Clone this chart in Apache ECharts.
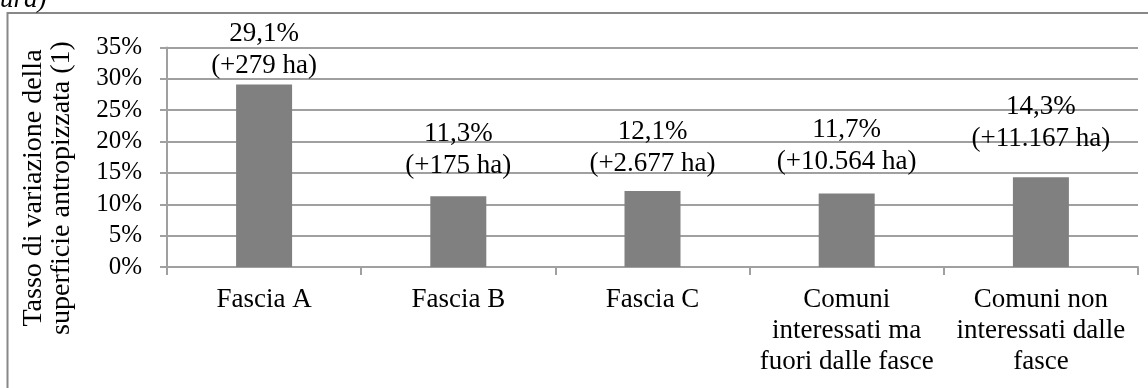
<!DOCTYPE html>
<html>
<head>
<meta charset="utf-8">
<script src="https://cdn.jsdelivr.net/npm/echarts@6/dist/echarts.min.js"></script>
<style>
html, body { margin: 0; padding: 0; background: #fff; }
#chart-box { width: 1148px; height: 388px; }
</style>
</head>
<body>
<div id="chart-box"></div>
<script>
// dati
var categories = ['Fascia A', 'Fascia B', 'Fascia C', 'Comuni\ninteressati ma\nfuori dalle fasce', 'Comuni non\ninteressati dalle\nfasce'];
var tasso = [29.1, 11.3, 12.1, 11.7, 14.3];
var ettari = [279, 175, 2677, 10564, 11167];
var yTicks = [0, 5, 10, 15, 20, 25, 30, 35];

// distanza etichetta-barra, come nell'originale
var labelGap = [3, 14, 11, 16, 22];

var serif = '"Liberation Serif", "DejaVu Serif", serif';

function fmtHa(n) {
    return String(n).replace(/\B(?=(\d{3})+(?!\d))/g, '.');
}

var barData = tasso.map(function (v, i) {
    return {
        value: v,
        label: { distance: labelGap[i] }
    };
});

var option = {
    animation: false,
    grid: { left: 167, right: 10, top: 47.5, bottom: 121 },
    xAxis: {
        type: 'category',
        data: categories,
        axisLine: { show: true, lineStyle: { color: '#a0a0a0', width: 2 } },
        axisTick: { show: true, length: 8, alignWithLabel: false, lineStyle: { color: '#a0a0a0', width: 2 } },
        axisLabel: {
            margin: 17,
            interval: 0,
            color: '#000',
            fontFamily: serif,
            fontSize: 27,
            lineHeight: 31,
            align: 'center'
        },
        splitLine: { show: false }
    },
    yAxis: {
        type: 'value',
        min: yTicks[0],
        max: yTicks[yTicks.length - 1],
        interval: 5,
        axisLine: { show: true, lineStyle: { color: '#a0a0a0', width: 2 } },
        axisTick: { show: true, length: 7, lineStyle: { color: '#a0a0a0', width: 2 } },
        axisLabel: {
            margin: 25,
            color: '#000',
            fontFamily: serif,
            fontSize: 25,
            formatter: '{value}%'
        },
        splitLine: { show: true, lineStyle: { color: '#a0a0a0', width: 2 } }
    },
    graphic: [
        {
            type: 'rect',
            silent: true,
            shape: { x: 7.5, y: 13, width: 1300, height: 600 },
            style: { fill: 'none', stroke: '#888', lineWidth: 2 }
        },
        {
            type: 'text',
            silent: true,
            x: 0,
            y: 13,
            style: {
                text: 'ura)',
                font: 'italic 27px ' + serif,
                fill: '#000',
                textAlign: 'left',
                textVerticalAlign: 'bottom'
            }
        },
        {
            type: 'text',
            silent: true,
            x: 48,
            y: 188,
            rotation: Math.PI / 2,
            style: {
                text: 'Tasso di variazione della\nsuperficie antropizzata (1)',
                font: '28px ' + serif,
                lineHeight: 28,
                fill: '#000',
                textAlign: 'center',
                textVerticalAlign: 'middle'
            }
        }
    ],
    series: [{
        type: 'bar',
        barWidth: 56,
        data: barData,
        itemStyle: { color: '#808080' },
        label: {
            show: true,
            position: 'top',
            color: '#000',
            fontFamily: serif,
            fontSize: 27,
            lineHeight: 32,
            align: 'center',
            formatter: function (p) {
                var pct = tasso[p.dataIndex].toFixed(1).replace('.', ',') + '%';
                return pct + '\n(+' + fmtHa(ettari[p.dataIndex]) + ' ha)';
            }
        }
    }]
};

var myChart = echarts.init(document.getElementById('chart-box'));
myChart.setOption(option);
</script>
</body>
</html>
